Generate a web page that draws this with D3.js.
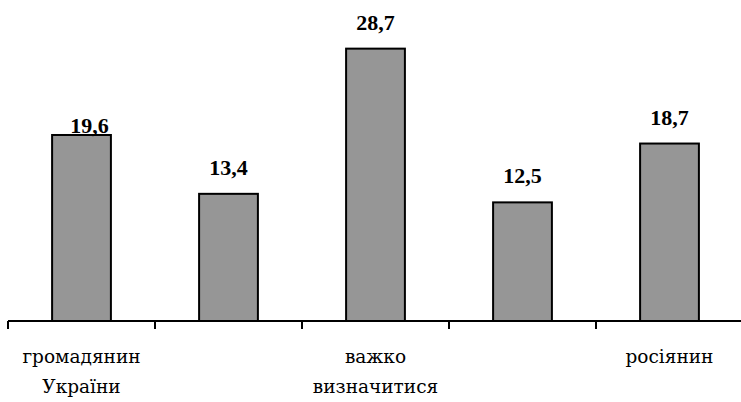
<!DOCTYPE html>
<html>
<head>
<meta charset="utf-8">
<script src="https://cdn.jsdelivr.net/npm/d3@7/dist/d3.min.js"></script>
<style>
  html, body { margin: 0; padding: 0; background: #fff; }
  svg { display: block; }
</style>
</head>
<body>
<svg id="chart" width="741" height="402"></svg>
<script>
// Category labels (two lines each; empty entries carry no visible label)
const categories = [
  ["громадянин", "України"],
  [],
  ["важко", "визначитися"],
  [],
  ["росіянин"]
];
const values = [19.6, 13.4, 28.7, 12.5, 18.7];
const valueLabels = ["19,6", "13,4", "28,7", "12,5", "18,7"];

const NUM_FONT = "'Liberation Serif', 'DejaVu Serif', serif";
const CYR_FONT = "'DejaVu Serif', serif";
const svg = d3.select("#chart");
const W = 741;
const left = 8;
const axisY = 321;
const groupStep = 147;

const x = d3.scaleBand()
  .domain(d3.range(values.length))
  .range([left, left + groupStep * values.length])
  .paddingInner(0.6)
  .paddingOuter(0.3);

const y = d3.scaleLinear()
  .domain([0, 30])
  .range([axisY, axisY - 284.7]);

// Bars
svg.append("g")
  .selectAll("rect")
  .data(values)
  .join("rect")
  .attr("x", (d, i) => x(i))
  .attr("y", d => y(d))
  .attr("width", x.bandwidth())
  .attr("height", d => y(0) - y(d))
  .attr("fill", "#969696")
  .attr("stroke", "#000")
  .attr("stroke-width", 2);

// Value labels above bars (first label sits a little lower and to the right)
const nudge = [[8, 17], [0, 0], [0, 0], [0, 0], [0, 0]];
svg.append("g")
  .selectAll("text")
  .data(values)
  .join("text")
  .attr("x", (d, i) => x(i) + x.bandwidth() / 2 + nudge[i][0])
  .attr("y", (d, i) => y(d) - 19 + nudge[i][1])
  .attr("text-anchor", "middle")
  .attr("font-family", NUM_FONT)
  .attr("font-weight", "bold")
  .attr("font-size", 22)
  .attr("fill", "#000")
  .text((d, i) => valueLabels[i]);

// Category axis with ticks between groups
const axisG = svg.append("g");
axisG.append("line")
  .attr("x1", left).attr("x2", W)
  .attr("y1", axisY).attr("y2", axisY)
  .attr("stroke", "#000").attr("stroke-width", 2);
axisG.selectAll("line.tick")
  .data(d3.range(values.length + 1))
  .join("line")
  .attr("class", "tick")
  .attr("x1", i => left + groupStep * i)
  .attr("x2", i => left + groupStep * i)
  .attr("y1", axisY)
  .attr("y2", axisY + 8)
  .attr("stroke", "#000").attr("stroke-width", 2);

// Category labels
const lab = svg.append("g");
categories.forEach((lines, i) => {
  lines.forEach((t, k) => {
    lab.append("text")
      .attr("x", x(i) + x.bandwidth() / 2)
      .attr("y", 363 + k * 30)
      .attr("text-anchor", "middle")
      .attr("font-family", CYR_FONT)
      .attr("font-size", 18.5)
      .attr("fill", "#000")
      .text(t);
  });
});
</script>
</body>
</html>
